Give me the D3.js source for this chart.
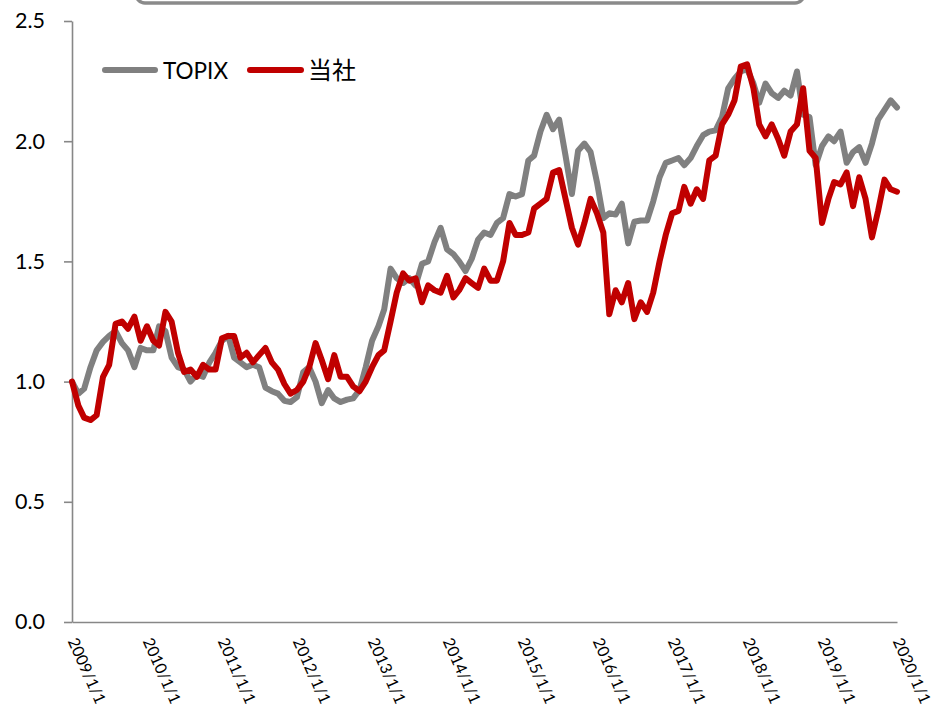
<!DOCTYPE html>
<html>
<head>
<meta charset="utf-8">
<script src="https://cdn.jsdelivr.net/npm/d3@7"></script>
<style>
  html, body { margin: 0; padding: 0; background: #ffffff; }
  svg { display: block; font-family: "Lato", "Noto Sans CJK JP", sans-serif; }
</style>
</head>
<body>
<svg id="chart" width="932" height="710"></svg>
<script>
// Monthly relative performance, January 2009 = 1.0
const startMonth = new Date(2009, 0, 1);
const endMonth = new Date(2020, 0, 1);

const topixValues = [
  1.00, 0.95, 0.97, 1.06, 1.13, 1.165, 1.19, 1.21, 1.16, 1.13, 1.06, 1.14,
  1.13, 1.13, 1.23, 1.21, 1.10, 1.06, 1.05, 1.00, 1.03, 1.02, 1.08, 1.12,
  1.17, 1.19, 1.10, 1.08, 1.06, 1.07, 1.06, 0.975, 0.96, 0.95, 0.92, 0.915,
  0.935, 1.04, 1.06, 1.00, 0.91, 0.965, 0.93, 0.915, 0.925, 0.93, 0.965, 1.06,
  1.17, 1.23, 1.30, 1.47, 1.43, 1.41, 1.43, 1.40, 1.49, 1.50, 1.58, 1.64,
  1.55, 1.53, 1.50, 1.46, 1.51, 1.59, 1.62, 1.61, 1.66, 1.68, 1.78, 1.77,
  1.78, 1.92, 1.94, 2.04, 2.11, 2.05, 2.09, 1.94, 1.78, 1.96, 1.99, 1.955,
  1.83, 1.68, 1.70, 1.695, 1.74, 1.575, 1.665, 1.67, 1.67, 1.75, 1.85, 1.91,
  1.92, 1.93, 1.90, 1.93, 1.98, 2.025, 2.04, 2.045, 2.10, 2.22, 2.26, 2.29,
  2.30, 2.24, 2.16, 2.24, 2.20, 2.18, 2.21, 2.19, 2.29, 2.11, 2.10, 1.90,
  1.98, 2.02, 2.00, 2.04, 1.91, 1.955, 1.975, 1.91, 1.99, 2.09, 2.13, 2.17,
  2.14
];

const companyValues = [
  1.00, 0.90, 0.85, 0.84, 0.86, 1.02, 1.07, 1.24, 1.25, 1.22, 1.27, 1.17,
  1.23, 1.17, 1.15, 1.29, 1.25, 1.12, 1.04, 1.05, 1.02, 1.07, 1.05, 1.05,
  1.18, 1.19, 1.19, 1.10, 1.12, 1.08, 1.11, 1.14, 1.08, 1.05, 0.99, 0.95,
  0.965, 1.00, 1.06, 1.16, 1.09, 1.01, 1.11, 1.02, 1.02, 0.98, 0.96, 1.00,
  1.06, 1.11, 1.13, 1.25, 1.37, 1.45, 1.42, 1.43, 1.33, 1.40, 1.38, 1.37,
  1.44, 1.35, 1.38, 1.43, 1.41, 1.39, 1.47, 1.42, 1.42, 1.50, 1.66, 1.61,
  1.61, 1.62, 1.72, 1.74, 1.76, 1.87, 1.88, 1.76, 1.64, 1.57, 1.66, 1.76,
  1.70, 1.62, 1.28, 1.38, 1.33, 1.41, 1.26, 1.33, 1.29, 1.37, 1.50, 1.61,
  1.70, 1.71, 1.81, 1.74, 1.80, 1.76, 1.92, 1.94, 2.07, 2.11, 2.17, 2.31,
  2.32, 2.22, 2.07, 2.02, 2.07, 2.01, 1.94, 2.04, 2.07, 2.22, 1.96, 1.93,
  1.66, 1.76, 1.83, 1.82, 1.87, 1.73, 1.85, 1.76, 1.60, 1.71, 1.84, 1.80,
  1.79
];

const xTickLabels = [
  "2009/1/1", "2010/1/1", "2011/1/1", "2012/1/1", "2013/1/1", "2014/1/1",
  "2015/1/1", "2016/1/1", "2017/1/1", "2018/1/1", "2019/1/1", "2020/1/1"
];
const yTickValues = [0, 0.5, 1.0, 1.5, 2.0, 2.5];

const seriesNames = ["TOPIX", "当社"];
const seriesColors = ["#808080", "#C00000"];

const months = d3.timeMonth.range(startMonth, d3.timeMonth.offset(endMonth, 1));
const parseLabel = d3.timeParse("%Y/%-m/%-d");
const tickDates = xTickLabels.map(parseLabel);

const svg = d3.select("#chart");

const x = d3.scaleTime().domain([startMonth, endMonth]).range([72, 897]);
const y = d3.scaleLinear().domain([0, 2.5]).range([622, 21]);

const axisColor = "#878787";

// Frame of the title box above the plot
svg.append("rect")
  .attr("x", 136).attr("y", -40)
  .attr("width", 668).attr("height", 43)
  .attr("rx", 9).attr("ry", 9)
  .attr("fill", "#ffffff")
  .attr("stroke", "#8a8a8a")
  .attr("stroke-width", 3.5);

// Y axis
const yAxis = svg.append("g")
  .attr("transform", "translate(72,0)")
  .call(d3.axisLeft(y).tickValues(yTickValues).tickFormat(d3.format(".1f"))
    .tickSize(8).tickPadding(19).tickSizeOuter(0));
yAxis.select(".domain").attr("stroke", axisColor).attr("stroke-width", 1.6);
yAxis.selectAll(".tick line").attr("stroke", axisColor).attr("stroke-width", 1.6);
yAxis.selectAll(".tick text")
  .attr("fill", "#000000")
  .style("font-size", "21.5px")
  .style("font-family", "Lato, sans-serif");

// X axis
const xAxis = svg.append("g")
  .attr("transform", "translate(0,622)")
  .call(d3.axisBottom(x).tickValues(tickDates)
    .tickFormat((d, i) => xTickLabels[i]).tickSize(0).tickSizeOuter(0));
xAxis.select(".domain").attr("stroke", axisColor).attr("stroke-width", 1.6);
xAxis.selectAll(".tick text")
  .attr("fill", "#000000")
  .style("font-size", "16px")
  .style("font-family", "Lato, sans-serif")
  .attr("text-anchor", "start")
  .attr("x", 0).attr("y", 0).attr("dy", 0)
  .attr("transform", "translate(-5,19) rotate(66)");

// Lines
const line = d3.line()
  .x((d, i) => x(months[i]))
  .y(d => y(d));

[topixValues, companyValues].forEach((vals, k) => {
  svg.append("path")
    .datum(vals)
    .attr("d", line)
    .attr("fill", "none")
    .attr("stroke", seriesColors[k])
    .attr("stroke-width", 6)
    .attr("stroke-linejoin", "round")
    .attr("stroke-linecap", "round");
});

// Legend
const legendItems = [
  { x1: 105, x2: 155, tx: 163, size: 22.5 },
  { x1: 250, x2: 301, tx: 308, size: 24 }
];
legendItems.forEach((item, k) => {
  svg.append("line")
    .attr("x1", item.x1).attr("x2", item.x2)
    .attr("y1", 70).attr("y2", 70)
    .attr("stroke", seriesColors[k])
    .attr("stroke-width", 6)
    .attr("stroke-linecap", "round");
  svg.append("text")
    .attr("x", item.tx).attr("y", 79)
    .attr("fill", "#000000")
    .style("font-size", item.size + "px")
    .text(seriesNames[k]);
});
</script>
</body>
</html>
